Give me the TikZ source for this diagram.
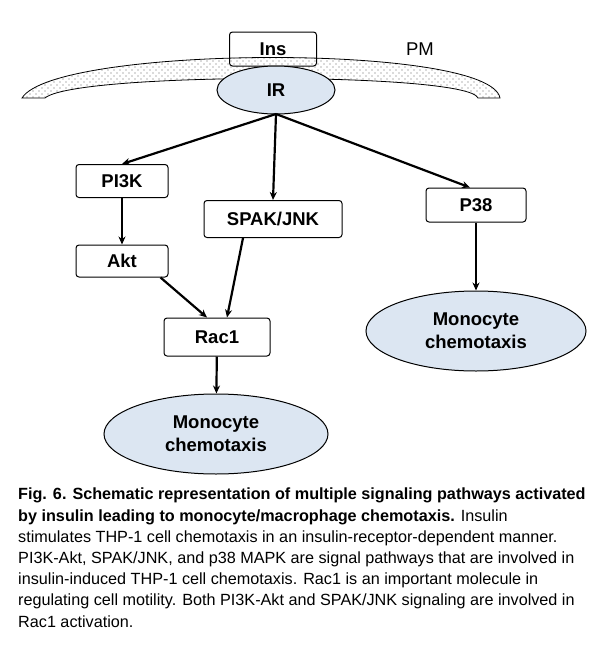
\documentclass[tikz,border=0pt]{standalone}
\usepackage{fontspec}
\setmainfont{Liberation Sans}
\usetikzlibrary{patterns,arrows.meta,shapes.geometric}
\pgfdeclarepatternformonly{sparsedots}{\pgfqpoint{-1pt}{-1pt}}{\pgfqpoint{6pt}{6pt}}{\pgfqpoint{6pt}{6pt}}{%
  \pgfpathcircle{\pgfqpoint{0pt}{0pt}}{0.7pt}\pgfusepath{fill}%
  \pgfpathcircle{\pgfqpoint{3pt}{3pt}}{0.7pt}\pgfusepath{fill}}
\definecolor{lblue}{HTML}{DCE6F2}
\begin{document}
\begin{tikzpicture}[x=1pt,y=-1pt,
  box/.style={draw,rounded corners=3pt,line width=1pt,font=\fontsize{18.5}{21}\selectfont\bfseries,inner sep=0pt},
  ell/.style={draw,ellipse,fill=lblue,line width=1pt,font=\fontsize{18.5}{23}\selectfont\bfseries,align=center,inner sep=0pt},
  arr/.style={line width=2.2pt,-{Stealth[length=8pt,width=7pt]}}]
\useasboundingbox (0,0) rectangle (605,646);
\fill[white] (0,0) rectangle (605,646);
% membrane
\draw[line width=0.8pt,pattern=sparsedots,pattern color=gray!80!black] (22,98) .. controls (55,45) and (490,43) .. (500,98) -- (478,98) .. controls (468,72) and (75,72) .. (45,98) -- cycle;
\node[box,minimum width=87pt,minimum height=34pt] (ins) at (273,49) {Ins};
\node[font=\fontsize{18.5}{21}\selectfont] (pm) at (420,49) {PM};
\node[ell,minimum width=118pt,minimum height=48pt] (ir) at (276,90) {IR};
\node[box,minimum width=92pt,minimum height=33pt] (pi3k) at (122,181) {PI3K};
\node[box,minimum width=138pt,minimum height=37pt] (spak) at (273,219) {SPAK/JNK};
\node[box,minimum width=100pt,minimum height=34pt] (p38) at (476,205) {P38};
\node[box,minimum width=92pt,minimum height=32pt] (akt) at (122,261) {Akt};
\node[box,minimum width=106pt,minimum height=38pt] (rac) at (217,337) {Rac1};
\node[ell,minimum width=220pt,minimum height=80pt] (mc2) at (476,331) {Monocyte\\chemotaxis};
\node[ell,minimum width=224pt,minimum height=80pt] (mc1) at (216,434) {Monocyte\\chemotaxis};
\coordinate (irb) at (276,114);
\draw[arr] (irb) -- (pi3k.north);
\draw[arr] (irb) -- (spak.north);
\draw[arr] (irb) -- ([xshift=-6pt]p38.north);
\draw[arr] (pi3k) -- (akt);
\draw[arr] ([xshift=-8pt]akt.south east) -- ([xshift=-10pt]rac.north);
\draw[arr] ([xshift=-30pt]spak.south) -- ([xshift=10pt]rac.north);
\draw[arr] (p38) -- (mc2);
\draw[arr] (rac) -- (mc1);
\node[anchor=north west,align=left,inner sep=0pt,font=\fontsize{16.2}{21.2}\selectfont] (cap) at (18,488)
{\textbf{Fig. 6. Schematic representation of multiple signaling pathways activated}\\
\textbf{by insulin leading to monocyte/macrophage chemotaxis.} Insulin\\
stimulates THP-1 cell chemotaxis in an insulin-receptor-dependent manner.\\
PI3K-Akt, SPAK/JNK, and p38 MAPK are signal pathways that are involved in\\
insulin-induced THP-1 cell chemotaxis. Rac1 is an important molecule in\\
regulating cell motility. Both PI3K-Akt and SPAK/JNK signaling are involved in\\
Rac1 activation.};
\end{tikzpicture}
\end{document}
